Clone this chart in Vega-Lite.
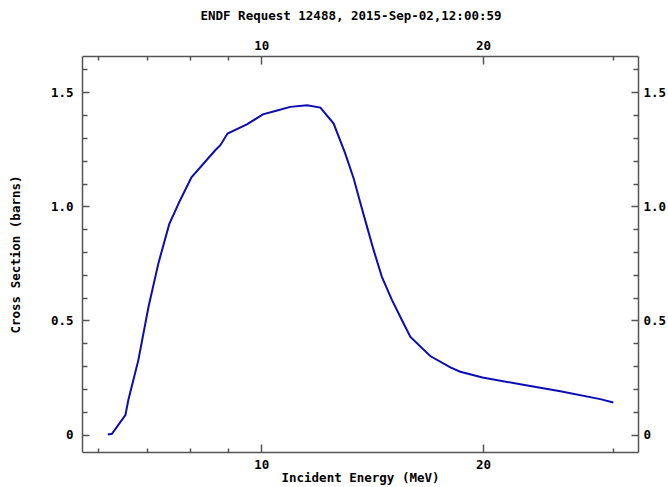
{
  "$schema": "https://vega.github.io/schema/vega-lite/v6.json",
  "width": 556,
  "height": 396,
  "autosize": "none",
  "padding": {"left": 82, "top": 56, "right": 30, "bottom": 35},
  "background": "white",
  "title": {
    "text": "ENDF Request 12488, 2015-Sep-02,12:00:59",
    "font": "DejaVu Sans Mono",
    "fontSize": 12.5,
    "fontWeight": "bold",
    "color": "black",
    "anchor": "middle",
    "baseline": "alphabetic",
    "dx": -9,
    "offset": 3
  },
  "config": {
    "view": {"stroke": null},
    "axis": {
      "labelFont": "DejaVu Sans Mono",
      "labelFontSize": 12.5,
      "labelFontWeight": "bold",
      "labelColor": "black",
      "titleFont": "DejaVu Sans Mono",
      "titleFontSize": 12.5,
      "titleFontWeight": "bold",
      "titleColor": "black",
      "domainColor": "#555555",
      "tickColor": "#555555",
      "domainWidth": 1.5,
      "tickWidth": 1.5,
      "grid": false,
      "labelOverlap": false,
      "labelFlush": false,
      "labelBound": false
    }
  },
  "data": {
    "values": [
      {"E": 6.19, "xs": 0.0},
      {"E": 6.27, "xs": 0.003},
      {"E": 6.54, "xs": 0.085},
      {"E": 6.60, "xs": 0.151},
      {"E": 6.81, "xs": 0.326},
      {"E": 7.03, "xs": 0.560},
      {"E": 7.25, "xs": 0.750},
      {"E": 7.50, "xs": 0.922},
      {"E": 7.76, "xs": 1.027},
      {"E": 8.04, "xs": 1.127},
      {"E": 8.66, "xs": 1.246},
      {"E": 8.80, "xs": 1.268},
      {"E": 9.00, "xs": 1.319},
      {"E": 9.56, "xs": 1.359},
      {"E": 10.05, "xs": 1.403},
      {"E": 10.45, "xs": 1.418},
      {"E": 10.95, "xs": 1.436},
      {"E": 11.54, "xs": 1.443},
      {"E": 12.03, "xs": 1.433},
      {"E": 12.54, "xs": 1.363},
      {"E": 13.00, "xs": 1.232},
      {"E": 13.35, "xs": 1.122},
      {"E": 13.60, "xs": 1.027},
      {"E": 13.92, "xs": 0.910},
      {"E": 14.21, "xs": 0.808},
      {"E": 14.58, "xs": 0.691},
      {"E": 15.05, "xs": 0.589},
      {"E": 15.52, "xs": 0.502},
      {"E": 15.94, "xs": 0.428},
      {"E": 16.96, "xs": 0.344},
      {"E": 18.06, "xs": 0.294},
      {"E": 18.63, "xs": 0.275},
      {"E": 19.97, "xs": 0.250},
      {"E": 22.47, "xs": 0.220},
      {"E": 25.47, "xs": 0.190},
      {"E": 28.86, "xs": 0.155},
      {"E": 30.06, "xs": 0.140}
    ]
  },
  "layer": [
    {
      "mark": {"type": "line", "color": "#0c0cb4", "strokeWidth": 2, "clip": true},
      "encoding": {
        "x": {
          "field": "E",
          "type": "quantitative",
          "scale": {"type": "log", "domain": [5.71, 32.47], "nice": false},
          "axis": {
            "orient": "bottom",
            "title": "Incident Energy (MeV)",
            "values": [6, 7, 8, 9, 10, 20, 30],
            "labelExpr": "(datum.value == 10 || datum.value == 20) ? format(datum.value, 'd') : ''",
            "tickSize": {"condition": {"test": "datum.value == 10 || datum.value == 20", "value": -8}, "value": -4},
            "labelPadding": 14,
            "titlePadding": -3
          }
        },
        "y": {
          "field": "xs",
          "type": "quantitative",
          "scale": {"domain": [-0.0767, 1.659], "nice": false, "zero": false},
          "axis": {
            "orient": "left",
            "title": "Cross Section (barns)",
            "values": [0, 0.1, 0.2, 0.3, 0.4, 0.5, 0.6, 0.7, 0.8, 0.9, 1.0, 1.1, 1.2, 1.3, 1.4, 1.5, 1.6],
            "labelExpr": "abs(datum.value*2 - round(datum.value*2)) < 0.001 ? (datum.value == 0 ? '0' : format(datum.value, '.1f')) : ''",
            "tickSize": {"condition": {"test": "abs(datum.value*2 - round(datum.value*2)) < 0.001", "value": -7}, "value": -5},
            "labelPadding": 16,
            "titlePadding": 28
          }
        }
      }
    },
    {
      "mark": {"type": "line", "opacity": 0, "clip": true},
      "encoding": {
        "x": {
          "field": "E",
          "type": "quantitative",
          "scale": {"type": "log", "domain": [5.71, 32.47], "nice": false},
          "axis": {
            "orient": "top",
            "title": null,
            "values": [6, 7, 8, 9, 10, 20, 30],
            "labelExpr": "(datum.value == 10 || datum.value == 20) ? format(datum.value, 'd') : ''",
            "tickSize": {"condition": {"test": "datum.value == 10 || datum.value == 20", "value": -8}, "value": -4},
            "labelPadding": 12
          }
        },
        "y": {
          "field": "xs",
          "type": "quantitative",
          "scale": {"domain": [-0.0767, 1.659], "nice": false, "zero": false},
          "axis": {
            "orient": "right",
            "title": null,
            "values": [0, 0.1, 0.2, 0.3, 0.4, 0.5, 0.6, 0.7, 0.8, 0.9, 1.0, 1.1, 1.2, 1.3, 1.4, 1.5, 1.6],
            "labelExpr": "abs(datum.value*2 - round(datum.value*2)) < 0.001 ? (datum.value == 0 ? '0' : format(datum.value, '.1f')) : ''",
            "tickSize": {"condition": {"test": "abs(datum.value*2 - round(datum.value*2)) < 0.001", "value": -7}, "value": -5},
            "labelPadding": 12
          }
        }
      }
    }
  ],
  "resolve": {"axis": {"x": "independent", "y": "independent"}}
}
